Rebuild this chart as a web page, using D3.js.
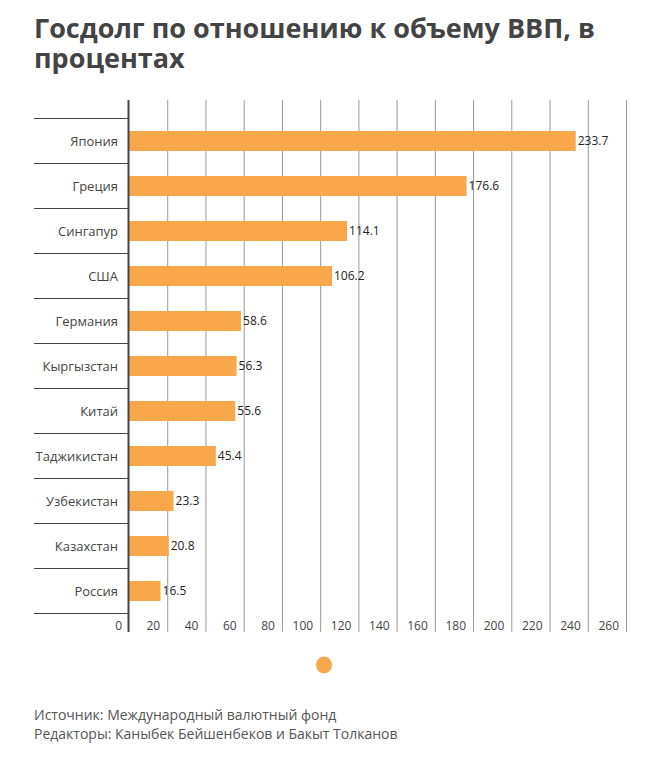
<!DOCTYPE html>
<html><head><meta charset="utf-8">
<script src="https://cdn.jsdelivr.net/npm/d3@7"></script>
<style>body{margin:0;background:#fff}svg{display:block}</style>
</head><body><svg id="c" width="662" height="774"></svg>
<script>
const categories = ["Япония","Греция","Сингапур","США","Германия","Кыргызстан","Китай","Таджикистан","Узбекистан","Казахстан","Россия"];
const values = [233.7,176.6,114.1,106.2,58.6,56.3,55.6,45.4,23.3,20.8,16.5];
const ticks = [0,20,40,60,80,100,120,140,160,180,200,220,240,260];
const titleLines = ["Госдолг по отношению к объему ВВП, в","процентах"];
const footer = ["Источник: Международный валютный фонд","Редакторы: Каныбек Бейшенбеков и Бакыт Толканов"];

const svg = d3.select("#c");
const font = "'Open Sans', 'Noto Sans', sans-serif";
const x = d3.scaleLinear().domain([0,260]).range([129,626]);
const y = d3.scaleBand().domain(categories).range([118,613]).paddingInner(0).paddingOuter(0);

// title
svg.append("g").selectAll("text").data(titleLines).join("text")
  .attr("x",34).attr("y",(d,i)=>38+i*30)
  .attr("font-family",font).attr("font-weight",700).attr("font-size",27)
  .attr("fill","#444").text(d=>d);

// gridlines
svg.append("g").selectAll("line").data(ticks.slice(1)).join("line")
  .attr("x1",d=>x(d)+0.5).attr("x2",d=>x(d)+0.5).attr("y1",100).attr("y2",632)
  .attr("stroke","#999").attr("stroke-width",1);

// category separators
const seps = categories.map(c=>y(c)).concat([y.range()[1]]);
svg.append("g").selectAll("line").data(seps).join("line")
  .attr("x1",34).attr("x2",129).attr("y1",d=>d+0.5).attr("y2",d=>d+0.5)
  .attr("stroke","#444").attr("stroke-width",1);

// bars
const bh = 20;
svg.append("g").selectAll("rect").data(values).join("rect")
  .attr("x",x(0)).attr("y",(d,i)=>y(categories[i])+y.bandwidth()/2-bh/2+0.5)
  .attr("width",d=>x(d)-x(0)).attr("height",bh).attr("fill","#F9A74B");

// value labels
svg.append("g").selectAll("text").data(values).join("text")
  .attr("x",d=>x(d)+2).attr("y",(d,i)=>y(categories[i])+y.bandwidth()/2+4)
  .attr("font-family",font).attr("font-size",12).attr("fill","#222")
  .text(d=>d.toFixed(1));

// category labels
svg.append("g").selectAll("text").data(categories).join("text")
  .attr("x",118).attr("y",c=>y(c)+y.bandwidth()/2+5)
  .attr("text-anchor","end").attr("font-family",font).attr("font-size",13).attr("fill","#444")
  .text(c=>c);

// axis line
svg.append("line").attr("x1",128.5).attr("x2",128.5).attr("y1",100).attr("y2",632)
  .attr("stroke","#444").attr("stroke-width",2);

// tick labels
svg.append("g").selectAll("text").data(ticks).join("text")
  .attr("x",d=>x(d)-7).attr("y",630)
  .attr("text-anchor","end").attr("font-family",font).attr("font-size",12).attr("fill","#444")
  .text(d=>d);

// legend dot
svg.append("ellipse").attr("cx",324).attr("cy",665).attr("rx",8).attr("ry",8.5).attr("fill","#F9A74B");

// footer
svg.append("g").selectAll("text").data(footer).join("text")
  .attr("x",34).attr("y",(d,i)=>720+i*19)
  .attr("font-family",font).attr("font-size",14).attr("fill","#555").text(d=>d);
</script></body></html>
